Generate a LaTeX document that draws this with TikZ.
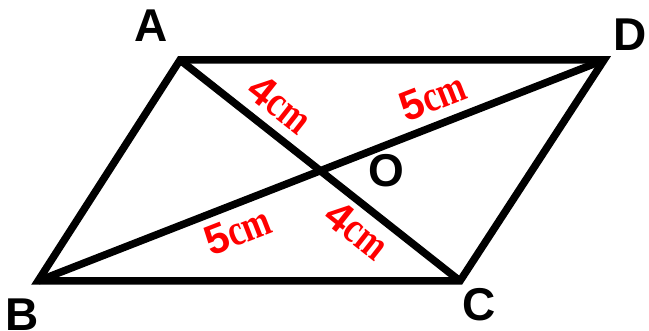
\documentclass[tikz,border=0pt]{standalone}
\usepackage{fontspec}
\setmainfont{Liberation Sans}
\newfontfamily\unitfont{Liberation Serif}
\usepackage{tikz}
\usetikzlibrary{calc, intersections}
\definecolor{edgeBlack}{HTML}{000000}
\definecolor{lenRed}{HTML}{FF0000}
\tikzset{
  side/.style={draw=edgeBlack, line width=7.5pt, line join=miter},
  vertexlabel/.style={font=\fontsize{46}{46}\selectfont\bfseries, text=edgeBlack,
    inner sep=0pt},
  lenlabel/.style={text=lenRed, inner sep=0pt,
    font=\fontsize{42}{42}\selectfont\bfseries},
}
\newcommand{\lenunit}{\scalebox{0.78}[1]{\unitfont\fontsize{44}{44}\selectfont\bfseries cm}}

\begin{document}
\begin{tikzpicture}[x=1pt, y=1pt]
    \useasboundingbox (0,0) rectangle (649,331);
    % ---------------- vertices ----------------
    \coordinate (A) at (180,271);
    \coordinate (D) at (604,271);
    \coordinate (B) at (38,50);
    \coordinate (C) at (460,50);
    % ---------------- parallelogram and diagonals ----------------
    \draw[side] (A) -- (D) -- (C) -- (B) -- cycle;
    \draw[side, name path=diagAC] (A) -- (C);
    \draw[side, name path=diagBD] (B) -- (D);
    \path[name intersections={of=diagAC and diagBD, by=O}];
    % ---------------- labels ----------------
    \node[vertexlabel] (labA) at (151,305) {A};
    \node[vertexlabel] (labB) at (22,16) {B};
    \node[vertexlabel] (labC) at (479,26) {C};
    \node[vertexlabel] (labD) at (630,296) {D};
    \node[vertexlabel] (labO) at ($(O)+(66,0)$) {O};
    % half diagonals
    \node[lenlabel, rotate=-38.3] (lenAO) at (280,227) {4\lenunit};
    \node[lenlabel, rotate=-38.3] (lenOC) at (357,101) {4\lenunit};
    \node[lenlabel, rotate=21.3] (lenOD) at (433,234) {5\lenunit};
    \node[lenlabel, rotate=21.3] (lenBO) at (238,100) {5\lenunit};
\end{tikzpicture}
\end{document}
